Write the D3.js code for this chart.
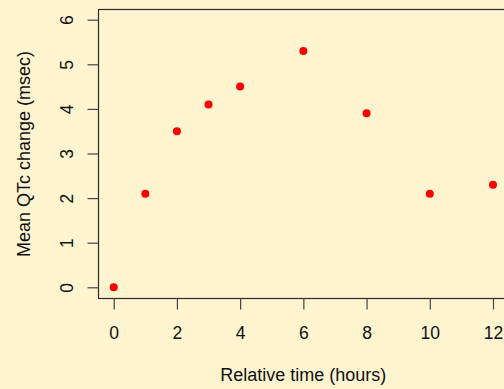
<!DOCTYPE html>
<html>
<head>
<meta charset="utf-8">
<script src="https://cdn.jsdelivr.net/npm/d3@7"></script>
<style>
  html, body { margin: 0; padding: 0; background: #fef4d0; }
  svg { display: block; font-family: "Liberation Sans", Arial, Helvetica, sans-serif; }
</style>
</head>
<body>
<div id="chart"></div>
<script>
// data
const hours = [0, 1, 2, 3, 4, 6, 8, 10, 12];
const qtcChange = [0, 2.1, 3.5, 4.1, 4.5, 5.3, 3.9, 2.1, 2.3];
const xTicks = [0, 2, 4, 6, 8, 10, 12];
const yTicks = [0, 1, 2, 3, 4, 5, 6];
const xTitle = 'Relative time (hours)';
const yTitle = 'Mean QTc change (msec)';

const W = 504, H = 389;
// plot box (R style), right edge falls just outside the window
const box = { left: 98.5, top: 9.5, right: 508, bottom: 298.5 };
const fontSize = 17.5;

const svg = d3.select('#chart')
  .append('svg')
  .attr('width', W)
  .attr('height', H);

svg.append('rect')
  .attr('width', W)
  .attr('height', H)
  .attr('fill', '#fef4d0');

const x = d3.scaleLinear().domain([0, 12]).range([113.7, 493]);
const y = d3.scaleLinear().domain([0, 6]).range([287.3, 19.7]);

// box
svg.append('rect')
  .attr('x', box.left)
  .attr('y', box.top)
  .attr('width', box.right - box.left)
  .attr('height', box.bottom - box.top)
  .attr('fill', 'none')
  .attr('stroke', '#2b2b2b')
  .attr('stroke-width', 1.2);

// x axis
const xAxis = svg.append('g')
  .attr('transform', `translate(0,${box.bottom})`)
  .call(d3.axisBottom(x).tickValues(xTicks).tickFormat(d3.format('d')).tickSize(11).tickSizeOuter(0));
xAxis.select('.domain').remove();
xAxis.selectAll('line').attr('stroke', '#444').attr('stroke-width', 1.2);
xAxis.selectAll('text')
  .attr('y', 40.5)
  .attr('dy', null)
  .attr('font-size', fontSize)
  .attr('fill', '#111')
  .attr('font-family', '"Liberation Sans", Arial, sans-serif');

// y axis
const yAxis = svg.append('g')
  .attr('transform', `translate(${box.left},0)`)
  .call(d3.axisLeft(y).tickValues(yTicks).tickFormat(d3.format('d')).tickSize(11).tickSizeOuter(0));
yAxis.select('.domain').remove();
yAxis.selectAll('line').attr('stroke', '#444').attr('stroke-width', 1.2);
yAxis.selectAll('text')
  .attr('x', null)
  .attr('dy', null)
  .attr('text-anchor', 'middle')
  .attr('transform', 'translate(-26,0) rotate(-90)')
  .attr('font-size', fontSize)
  .attr('fill', '#111')
  .attr('font-family', '"Liberation Sans", Arial, sans-serif');

// axis titles
svg.append('text')
  .attr('x', (box.left + box.right) / 2)
  .attr('y', 380.5)
  .attr('text-anchor', 'middle')
  .attr('font-size', 18)
  .attr('fill', '#111')
  .text(xTitle);

svg.append('text')
  .attr('transform', `translate(29.5,${(box.top + box.bottom) / 2}) rotate(-90)`)
  .attr('text-anchor', 'middle')
  .attr('font-size', 18)
  .attr('fill', '#111')
  .text(yTitle);

// points
svg.append('g')
  .selectAll('circle')
  .data(hours.map((h, i) => ({ h, v: qtcChange[i] })))
  .join('circle')
  .attr('cx', d => x(d.h))
  .attr('cy', d => y(d.v))
  .attr('r', 4)
  .attr('fill', '#ff0000');
</script>
</body>
</html>
